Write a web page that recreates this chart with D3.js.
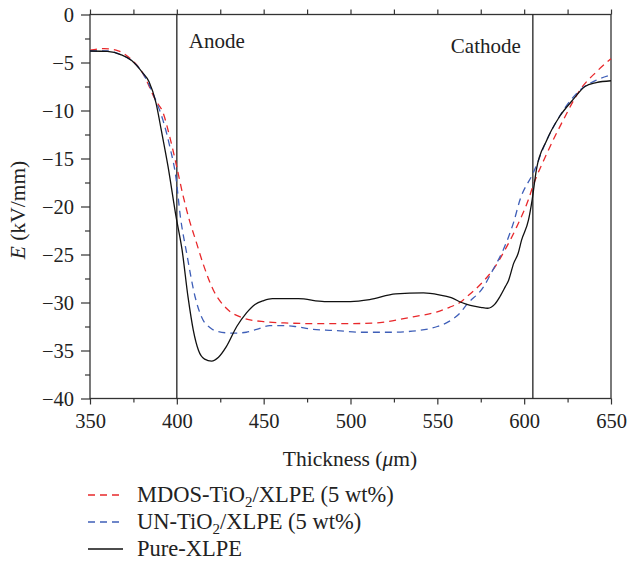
<!DOCTYPE html>
<html>
<head>
<meta charset="utf-8">
<script src="https://cdn.jsdelivr.net/npm/d3@7"></script>
<style>
  body { margin: 0; background: #fff; }
  text { font-family: "Liberation Serif", "DejaVu Serif", serif; fill: #222; }
</style>
</head>
<body>
<div id="content"></div>
<script>
const w = 627
const h = 561
const margin = {left: 90, right: 16, top: 14.5, bottom: 162.5}

// thickness (um), E (kV/mm)
const pureXLPE = [
  [350,-3.8],[360,-3.85],[368,-4.2],[374,-4.8],[380,-6.0],[384,-7.0],[388,-9.2],[391,-12.0],
  [395,-15.9],[399.5,-21.0],[403,-24.5],[406.5,-29.5],[409.5,-32.9],[412.5,-35.0],[416,-35.9],
  [420,-36.1],[424,-35.7],[428.5,-34.6],[434.5,-32.5],[440,-31.1],[445,-30.2],[450,-29.8],
  [455,-29.6],[470,-29.6],[485,-29.9],[500,-29.9],[511,-29.7],[526,-29.1],[542,-29.0],
  [551,-29.2],[558,-29.5],[564,-30.0],[569,-30.3],[575,-30.5],[579,-30.6],[583,-30.2],
  [586,-29.4],[589,-28.4],[591,-27.7],[594,-25.9],[596.5,-24.9],[598.5,-23.5],[602.5,-21.4],
  [604.6,-19.3],[607,-16.2],[613,-13.1],[620.5,-10.6],[628,-8.9],[635,-7.5],[641.5,-7.1],[650,-6.9]
]
const mdos = [
  [350,-3.7],[358,-3.55],[365,-3.7],[372,-4.4],[380,-6.0],[388,-9.0],[392,-10.2],[396,-12.8],
  [399.5,-15.5],[403.5,-18.8],[407.5,-21.6],[411,-23.6],[415,-25.9],[421,-28.7],[428.5,-30.6],
  [438,-31.6],[450,-32.0],[465,-32.15],[480,-32.2],[500,-32.2],[517,-32.1],[527,-31.8],
  [536,-31.5],[549.5,-31.0],[557,-30.5],[563,-30.0],[567,-29.4],[576.5,-27.8],[582,-26.6],
  [589,-24.5],[595.5,-22.2],[602.4,-19.3],[605,-17.9],[613,-14.5],[622.5,-11.0],[632,-7.9],
  [642,-5.9],[650,-4.6]
]
const unTiO2 = [
  [350,-3.8],[360,-3.8],[368,-4.2],[374,-4.8],[380,-6.0],[388,-9.0],[392,-11.0],[396,-13.8],
  [399.5,-17.0],[402,-21.0],[405.7,-24.9],[410.5,-29.4],[415,-31.8],[419,-32.6],[423,-33.0],
  [432.5,-33.2],[440,-33.1],[446,-32.8],[453.5,-32.4],[460,-32.4],[468,-32.5],[478.5,-32.8],
  [490,-32.9],[507,-33.1],[523,-33.1],[540,-32.9],[550,-32.5],[555.5,-32.1],[563,-31.1],
  [567,-30.2],[576.5,-28.4],[582,-26.6],[588,-24.5],[594,-21.6],[597.6,-19.3],[605.2,-16.5],
  [613,-13.1],[622.5,-10.0],[632,-7.9],[642,-6.8],[650,-6.3]
]
const electrodes = [ {x: 400, label: "Anode"}, {x: 605, label: "Cathode"} ]
const xMajor = [350,400,450,500,550,600,650]
const xMinor = [375,425,475,525,575,625]
const yMajor = [0,-5,-10,-15,-20,-25,-30,-35,-40]
const yMinor = [-2.5,-7.5,-12.5,-17.5,-22.5,-27.5,-32.5,-37.5]

let svg = d3.select("#content").append("svg")
  .attr("width", w).attr("height", h)

const x = d3.scaleLinear().domain([350,650]).range([margin.left, w - margin.right])
const y = d3.scaleLinear().domain([-40,0]).range([h - margin.bottom, margin.top])
const x0 = margin.left, x1 = w - margin.right, y0 = h - margin.bottom, y1 = margin.top

function styleAxis(g) {
  g.select(".domain").remove()
  g.selectAll("line").attr("stroke", "#333").attr("stroke-width", 1.2)
  g.selectAll("text").style("font-size", "20.5px").attr("fill", "#222")
}

// bottom axis
svg.append("g").attr("transform", "translate(0," + y0 + ")")
  .call(d3.axisBottom(x).tickValues(xMinor).tickSize(4).tickFormat("")).call(styleAxis)
svg.append("g").attr("transform", "translate(0," + y0 + ")")
  .call(d3.axisBottom(x).tickValues(xMajor).tickSize(6).tickPadding(9).tickFormat(d3.format("d")))
  .call(styleAxis)
// top axis
svg.append("g").attr("transform", "translate(0," + y1 + ")")
  .call(d3.axisTop(x).tickValues(xMajor.concat(xMinor)).tickSize(5).tickFormat("")).call(styleAxis)
// left axis
svg.append("g").attr("transform", "translate(" + x0 + ",0)")
  .call(d3.axisLeft(y).tickValues(yMinor).tickSize(5).tickFormat("")).call(styleAxis)
svg.append("g").attr("transform", "translate(" + x0 + ",0)")
  .call(d3.axisLeft(y).tickValues(yMajor).tickSize(9).tickPadding(7)
    .tickFormat(d => d < 0 ? "\u2212" + (-d) : d)).call(styleAxis)

// frame
svg.append("rect").attr("x", x0).attr("y", y1).attr("width", x1 - x0).attr("height", y0 - y1)
  .attr("fill", "none").attr("stroke", "#333").attr("stroke-width", 1.3)

// electrode lines
svg.selectAll(".elec").data(electrodes).enter().append("line")
  .attr("x1", d => x(d.x)).attr("x2", d => x(d.x))
  .attr("y1", y(0)).attr("y2", y(-40))
  .attr("stroke", "#222").attr("stroke-width", 1.3)
svg.append("text").attr("x", x(400) + 12).attr("y", 48).style("font-size", "21px").text("Anode")
svg.append("text").attr("x", x(605) - 12).attr("y", 53).attr("text-anchor", "end")
  .style("font-size", "21px").text("Cathode")

const line = d3.line().x(d => x(d[0])).y(d => y(d[1])).curve(d3.curveMonotoneX)

const series = [
  {data: mdos, color: "#e8282b", dash: "7,5"},
  {data: unTiO2, color: "#3f5fb8", dash: "7,5"},
  {data: pureXLPE, color: "#111", dash: null}
]
svg.selectAll(".series").data(series).enter().append("path")
  .attr("d", d => line(d.data))
  .attr("fill", "none")
  .attr("stroke", d => d.color)
  .attr("stroke-width", 1.3)
  .attr("stroke-dasharray", d => d.dash)

// axis titles
const xt = svg.append("text").attr("x", 350).attr("y", 466).attr("text-anchor", "middle")
  .style("font-size", "21.5px")
xt.append("tspan").text("Thickness (")
xt.append("tspan").style("font-style", "italic").text("\u03bc")
xt.append("tspan").text("m)")

const yt = svg.append("text").attr("transform", "translate(25,210) rotate(-90)")
  .attr("text-anchor", "middle").style("font-size", "21.5px")
yt.append("tspan").style("font-style", "italic").text("E")
yt.append("tspan").text(" (kV/mm)")

// legend
const legend = [
  {name: ["MDOS-TiO", "2", "/XLPE (5 wt%)"], color: "#e8282b", dash: "7,5"},
  {name: ["UN-TiO", "2", "/XLPE (5 wt%)"], color: "#3f5fb8", dash: "7,5"},
  {name: ["Pure-XLPE"], color: "#111", dash: null}
]
legend.forEach((d, i) => {
  const ly = 495 + i * 27
  svg.append("line").attr("x1", 88).attr("x2", 123).attr("y1", ly).attr("y2", ly)
    .attr("stroke", d.color).attr("stroke-width", 1.3).attr("stroke-dasharray", d.dash)
  const t = svg.append("text").attr("x", 137).attr("y", ly + 7).style("font-size", "22.5px")
  t.append("tspan").text(d.name[0])
  if (d.name.length > 1) {
    t.append("tspan").attr("dy", 5).style("font-size", "15px").text(d.name[1])
    t.append("tspan").attr("dy", -5).text(d.name[2])
  }
})
</script>
</body>
</html>
